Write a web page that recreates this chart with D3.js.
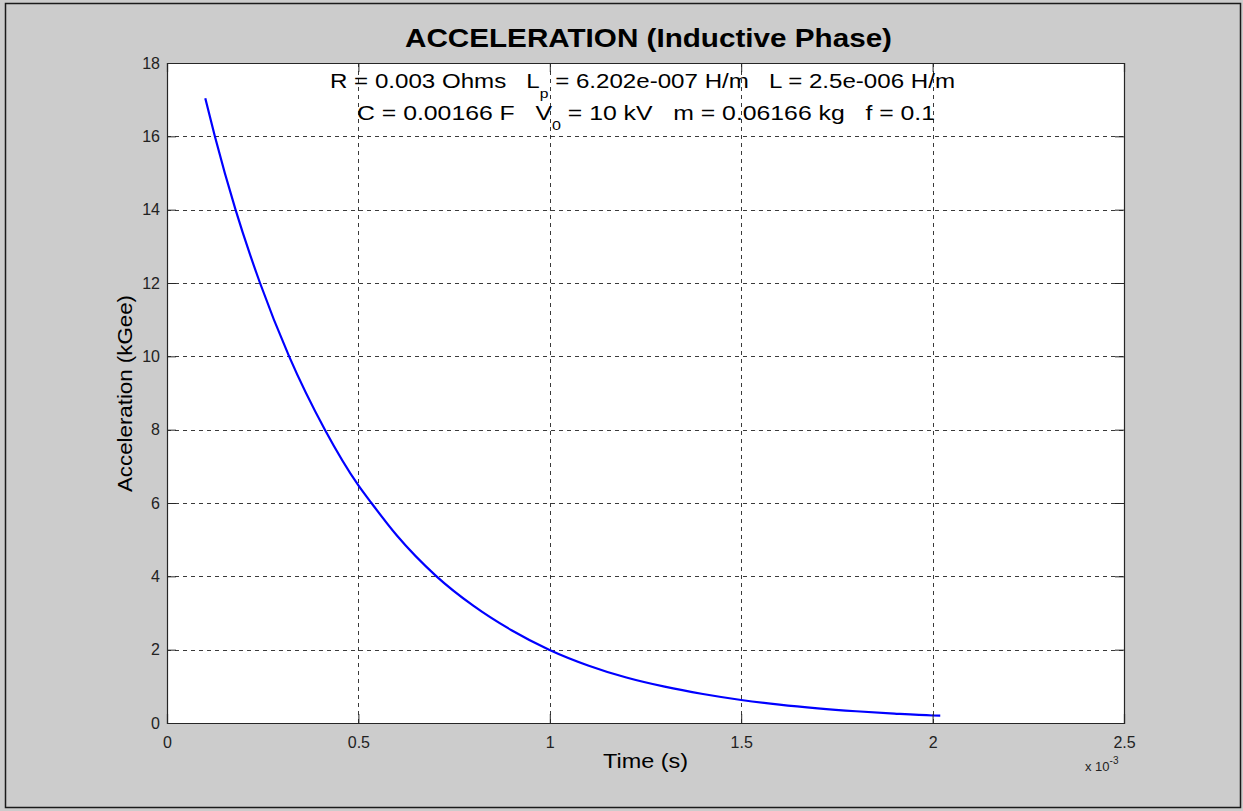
<!DOCTYPE html>
<html>
<head>
<meta charset="utf-8">
<script src="https://cdn.jsdelivr.net/npm/d3@7"></script>
<style>
  html, body { margin: 0; padding: 0; background: #cccccc; }
  svg { display: block; font-family: "Liberation Sans", Arial, Helvetica, sans-serif; }
  text { white-space: pre; }
</style>
</head>
<body>
<svg id="chart" width="1243" height="811"></svg>
<script>
// Time samples in milliseconds (axis is shown as seconds x 10^-3)
const timeMs = [0.10, 0.125, 0.179, 0.243, 0.319, 0.4125, 0.50, 0.534, 0.60, 0.704,
                0.80, 0.90, 0.998, 1.10, 1.20, 1.30, 1.40, 1.50, 1.60, 1.70,
                1.80, 1.90, 2.00, 2.02];
// Acceleration in kGee
const accel = [17.04, 16.0, 14.0, 12.0, 10.0, 8.0, 6.48, 6.0, 5.12, 4.0,
               3.2, 2.53, 2.0, 1.57, 1.24, 0.99, 0.79, 0.627, 0.50, 0.40,
               0.32, 0.255, 0.205, 0.20];
const xTicks = [0, 0.5, 1, 1.5, 2, 2.5];
const yTicks = [0, 2, 4, 6, 8, 10, 12, 14, 16, 18];

const svg = d3.select("#chart");
const plot = { left: 167, top: 63, right: 1124, bottom: 723 };

// figure frame
svg.append("rect").attr("x", 5.5).attr("y", 3.5).attr("width", 1235).attr("height", 804)
  .attr("fill", "#cccccc").attr("stroke", "#1a1a1a").attr("stroke-width", 1.5);

const x = d3.scaleLinear().domain([0, 2.5]).range([plot.left, plot.right]);
const y = d3.scaleLinear().domain([0, 18]).range([plot.bottom, plot.top]);

// axes background
svg.append("rect").attr("x", plot.left).attr("y", plot.top)
  .attr("width", plot.right - plot.left).attr("height", plot.bottom - plot.top)
  .attr("fill", "#ffffff");

// grid
const grid = svg.append("g").attr("stroke", "#3a3a3a").attr("stroke-width", 1)
  .attr("stroke-dasharray", "4,4").attr("shape-rendering", "crispEdges");
grid.selectAll("line.gx").data(xTicks.slice(1, -1)).join("line")
  .attr("x1", d => Math.round(x(d)) + 0.5).attr("x2", d => Math.round(x(d)) + 0.5)
  .attr("y1", plot.top).attr("y2", plot.bottom);
grid.selectAll("line.gy").data(yTicks.slice(1, -1)).join("line")
  .attr("y1", d => Math.round(y(d)) + 0.5).attr("y2", d => Math.round(y(d)) + 0.5)
  .attr("x1", plot.left).attr("x2", plot.right);

// stretch a text element horizontally to a given width
function fitWidth(sel, w) {
  sel.attr("textLength", w).attr("lengthAdjust", "spacingAndGlyphs");
}

// annotation text inside the axes
const ann = svg.append("g").attr("font-size", 20).attr("fill", "#000");
const line1 = ann.append("text").attr("x", 330).attr("y", 88);
line1.append("tspan").text("R = 0.003 Ohms   L");
line1.append("tspan").attr("font-size", 13).attr("dy", 10).text("p");
line1.append("tspan").attr("dy", -10).text(" = 6.202e-007 H/m   L = 2.5e-006 H/m");
fitWidth(line1, 625);
const line2 = ann.append("text").attr("x", 357).attr("y", 120);
line2.append("tspan").text("C = 0.00166 F   V");
line2.append("tspan").attr("font-size", 13).attr("dy", 10).text("0");
line2.append("tspan").attr("dy", -10).text(" = 10 kV   m = 0.06166 kg   f = 0.1");
fitWidth(line2, 578);

// data line
const line = d3.line().x(d => x(d[0])).y(d => y(d[1])).curve(d3.curveMonotoneX);
svg.append("path").datum(d3.zip(timeMs, accel))
  .attr("fill", "none").attr("stroke", "#0000ff").attr("stroke-width", 2.2)
  .attr("d", line);

// axes box and ticks
const axisColor = "#262626";
const xAxis = d3.axisBottom(x).tickValues(xTicks).tickSize(-9).tickPadding(14)
  .tickFormat(d3.format("~g"));
const yAxis = d3.axisLeft(y).tickValues(yTicks).tickSize(-9).tickPadding(7)
  .tickFormat(d3.format("~g"));
const gx = svg.append("g").attr("transform", `translate(0,${plot.bottom})`).call(xAxis);
const gy = svg.append("g").attr("transform", `translate(${plot.left},0)`).call(yAxis);
const gx2 = svg.append("g").attr("transform", `translate(0,${plot.top})`)
  .call(d3.axisTop(x).tickValues(xTicks).tickSize(-9).tickFormat(""));
const gy2 = svg.append("g").attr("transform", `translate(${plot.right},0)`)
  .call(d3.axisRight(y).tickValues(yTicks).tickSize(-9).tickFormat(""));
[gx, gy, gx2, gy2].forEach(g => {
  g.select(".domain").attr("stroke", axisColor).attr("stroke-width", 1.2);
  g.selectAll(".tick line").attr("stroke", axisColor);
  g.selectAll(".tick text").attr("fill", "#222").attr("font-size", 16)
    .attr("font-family", "'Liberation Sans', Arial, sans-serif");
});

// exponent marker
const ex = svg.append("text").attr("x", 1085).attr("y", 771).attr("font-size", 13).attr("fill", "#222");
ex.append("tspan").text("x 10");
ex.append("tspan").attr("dy", -7).attr("font-size", 10).text("-3");

// labels
const title = svg.append("text").attr("x", 405).attr("y", 47)
  .attr("font-size", 25).attr("font-weight", "bold").text("ACCELERATION (Inductive Phase)");
fitWidth(title, 487);
const xl = svg.append("text").attr("x", 603).attr("y", 768)
  .attr("font-size", 20).text("Time (s)");
fitWidth(xl, 85);
const yl = svg.append("text").attr("transform", "translate(132,492) rotate(-90)")
  .attr("font-size", 20).text("Acceleration (kGee)");
fitWidth(yl, 197);
</script>
</body>
</html>
